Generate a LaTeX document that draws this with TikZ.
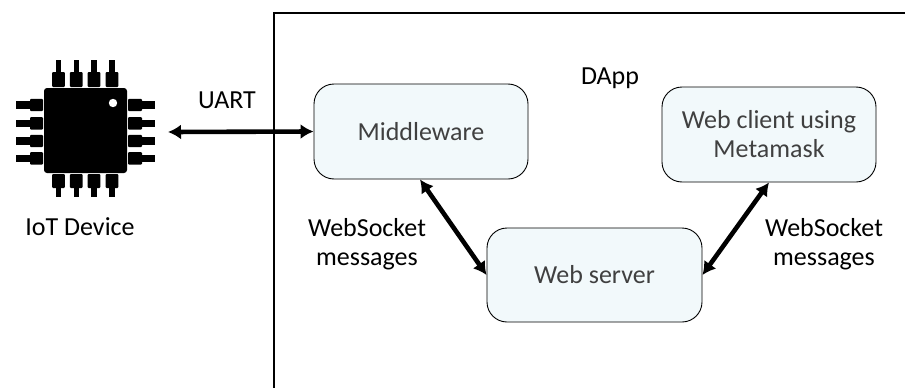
\documentclass[tikz,border=0pt]{standalone}
\usepackage{fontspec}
\setmainfont{Carlito}
\usetikzlibrary{arrows.meta}
\definecolor{boxfill}{HTML}{F2F9FB}
\definecolor{boxtext}{HTML}{404040}
\tikzset{
  box/.style={draw=black, line width=0.9pt, fill=boxfill, rounded corners=20pt,
    minimum width=214pt, minimum height=95pt, inner sep=0pt, text=boxtext,
    align=center, font=\fontsize{26}{29}\selectfont},
  lbl/.style={align=center, font=\fontsize{26}{29}\selectfont, inner sep=0pt},
  conn/.style={line width=4.6pt, {Latex[length=13pt,width=15pt]}-{Latex[length=13pt,width=15pt]}},
  pin/.style={fill=black, draw=none},
}
\begin{document}
\begin{tikzpicture}[x=1pt,y=-1pt]
\useasboundingbox (0,0) rectangle (905,388);
% DApp frame
\draw[line width=1.6pt] (274,388) -- (274,13) -- (906,13);
\node[lbl] (dapp) at (610,78) {DApp};
% chip
\fill[black, rounded corners=3pt] (44,88) rectangle (127,173);
\fill[white] (113,103) circle (4.2);
\foreach \c in {58.5,76.3,94,112} {
  \fill[pin] (\c-2.8,60) rectangle (\c+2.8,74);
  \fill[pin, rounded corners=1pt] (\c-6.4,72) rectangle (\c+6.4,87);
  \fill[pin, rounded corners=1pt] (\c-6.4,174) rectangle (\c+6.4,188);
  \fill[pin] (\c-2.8,186) rectangle (\c+2.8,197);
}
\foreach \c in {105,123.3,141,158.3} {
  \fill[pin] (16,\c-3.6) rectangle (31,\c+3.6);
  \fill[pin, rounded corners=1pt] (30,\c-6.2) rectangle (43,\c+6.2);
  \fill[pin, rounded corners=1pt] (128,\c-6.2) rectangle (142,\c+6.2);
  \fill[pin] (141,\c-3.6) rectangle (155,\c+3.6);
}
\coordinate (chipR) at (168,132);
\node[lbl] (iot) at (80,227) {IoT Device};
% boxes
\node[box] (mw) at (421,131.5) {Middleware};
\node[box, minimum height=94pt, minimum width=215pt] (ws) at (594.5,275) {Web server};
\node[box] (wc) at (769,134.5) {Web client using\\Metamask};
% connectors
\draw[conn] (chipR) -- (mw.west);
\node[lbl] (uart) at (227,100) {UART};
\draw[conn] ([xshift=-1pt]mw.south) -- (ws.west);
\draw[conn] (ws.east) -- (wc.south);
\node[lbl] (wsl) at (367,244) {WebSocket\\messages};
\node[lbl] (wsr) at (824,244) {WebSocket\\messages};
\end{tikzpicture}
\end{document}
